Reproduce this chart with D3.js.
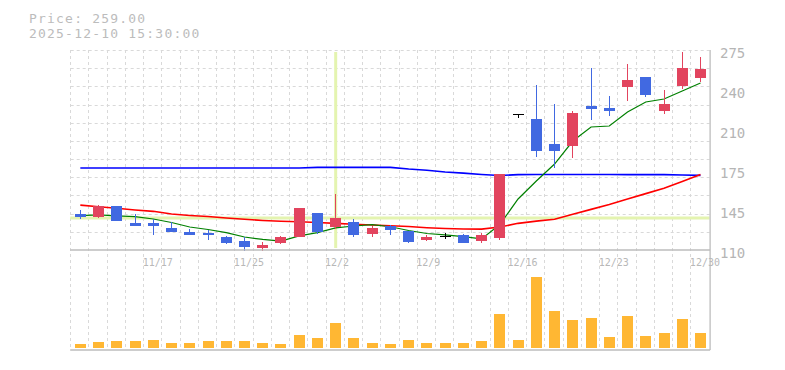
<!DOCTYPE html>
<html><head><meta charset="utf-8">
<script src="https://cdn.jsdelivr.net/npm/d3@7"></script>
<style>
html,body{margin:0;padding:0;background:#fff;}
svg{display:block;}
text{font-family:"DejaVu Sans Mono",monospace;}
</style></head><body>
<svg id="chart" width="785" height="370"></svg>
<script>
const dates = ["11/11","11/12","11/13","11/14","11/17","11/18","11/19","11/20","11/21","11/25","11/26","11/27","11/28","12/1","12/2","12/3","12/4","12/5","12/8","12/9","12/10","12/11","12/12","12/15","12/16","12/17","12/18","12/19","12/22","12/23","12/24","12/25","12/26","12/29","12/30"];
const openP  = [139.7,137.5,146.3,132.5,132.5,128.4,124.6,124.3,120.7,117.4,111.9,116.0,120.7,140.5,129.2,133.1,123.4,130.0,125.9,118.3,121.3,122.6,117.7,120.1,221.8,218.1,197.5,196.0,228.5,227.2,244.5,252.7,224.9,245.5,252.1];
const highP  = [143.0,147.1,146.3,140.0,135.6,133.1,127.6,126.9,121.8,121.0,116.4,121.8,144.7,140.5,156.2,135.6,129.5,130.6,125.9,122.6,124.3,123.2,124.3,172.7,221.8,246.1,230.5,224.7,260.4,237.1,263.5,252.7,242.0,273.4,269.2];
const lowP   = [135.6,136.6,134.2,130.0,122.4,125.1,122.6,118.3,115.2,109.4,109.4,115.2,120.7,122.8,127.1,121.0,121.0,122.0,116.0,117.4,118.8,116.0,116.0,118.3,219.1,187.0,177.9,186.1,217.3,220.8,233.2,236.5,222.4,243.1,248.9];
const closeP = [137.6,146.3,134.2,130.0,130.0,125.1,122.6,122.6,116.0,112.2,114.1,120.7,144.7,125.1,136.4,122.6,128.2,126.7,116.8,120.7,121.3,116.0,122.6,172.7,221.8,191.9,191.9,223.0,226.6,224.9,250.3,238.1,230.5,260.2,259.0];
const volumeK = [4,6,7,7,8,5,5,7,7,7,5,4,13,10,25,10,5,4,8,5,5,5,7,34,8,71,37,28,30,11,32,12,15,29,15];
const ma5  = [138.3,138.9,138.1,137.5,135.6,132.7,129.0,126.9,124.3,120.7,118.7,117.4,121.6,124.4,128.2,129.8,131.0,129.2,126.1,123.6,122.4,121.0,119.1,131.0,152.1,166.9,180.9,199.9,211.5,212.3,223.9,232.1,234.6,241.2,247.8];
const ma25 = [147.0,145.7,144.4,143.0,141.9,139.7,138.5,137.6,136.4,135.4,134.4,133.7,133.3,132.7,132.0,131.2,130.6,130.0,129.4,128.4,127.7,127.3,127.2,129.0,132.0,133.8,135.3,139.5,143.5,147.5,152.0,156.5,161.0,166.5,172.3];
const ma75 = [177.6,177.6,177.6,177.6,177.6,177.6,177.6,177.6,177.6,177.6,177.6,177.6,177.6,178.2,178.2,178.2,178.2,178.2,176.8,175.8,174.4,173.4,172.3,171.5,172.2,172.3,172.3,172.3,172.3,172.3,172.2,172.2,172.2,171.9,171.6];
const xTickDates = ["11/17","11/25","12/2","12/9","12/16","12/23","12/30"];
const yTickValues = [110,143,176,209,242,275];
const yTickLabels = ["110","145","175","210","240","275"];
const gridPrices = [110,125,140,155,170,185,200,215,230,245,260,275];
const headerLines = ["Price: 259.00","2025-12-10 15:30:00"];
const crossDate = "12/2";
const crossPrice = 136.4;

const svg = d3.select("#chart");
const L = 71.2, R = 709.6, T = 50, B = 250, VB = 348, VT = 268, AXB = 350;

const x = d3.scaleBand().domain(dates).range([L, R]).paddingInner(0).paddingOuter(0);
const cx = d => x(d) + x.bandwidth() / 2;
const y = d3.scaleLinear().domain([110, 275]).range([B, T]);
const yv = d3.scaleLinear().domain([0, 80]).range([VB, VT]);

const data = dates.map((d, i) => ({d, o: openP[i], h: highP[i], l: lowP[i], c: closeP[i], v: volumeK[i]}));

// grid
const grid = svg.append("g").attr("stroke", "#d9d9d9").attr("stroke-dasharray", "3,3").attr("stroke-width", 1);
grid.selectAll("line.h").data(gridPrices.filter(p => p !== 110)).join("line")
  .attr("x1", L - 0.5).attr("x2", R).attr("y1", p => Math.round(y(p)) + 0.5).attr("y2", p => Math.round(y(p)) + 0.5);
grid.selectAll("line.v").data(dates).join("line")
  .attr("x1", d => Math.round(x(d) - 1) + 0.5).attr("x2", d => Math.round(x(d) - 1) + 0.5)
  .attr("y1", T).attr("y2", AXB);

// crosshair highlight
const hl = svg.append("g").attr("stroke", "#e4f4b0").attr("stroke-width", 3);
hl.append("line").attr("x1", cx(crossDate)).attr("x2", cx(crossDate)).attr("y1", T + 2).attr("y2", B - 2);
hl.append("line").attr("x1", L - 1).attr("x2", R).attr("y1", y(crossPrice)).attr("y2", y(crossPrice));

// moving averages
const line = arr => d3.line().x((v, i) => cx(dates[i])).y(v => y(v))(arr);
svg.append("path").attr("d", line(ma75)).attr("fill", "none").attr("stroke", "#0000ff").attr("stroke-width", 1.6);
svg.append("path").attr("d", line(ma25)).attr("fill", "none").attr("stroke", "#ff0000").attr("stroke-width", 1.6);
svg.append("path").attr("d", line(ma5)).attr("fill", "none").attr("stroke", "#008000").attr("stroke-width", 1.2);

// candles
const colorOf = k => k.c > k.o ? "#e2445e" : (k.c < k.o ? "#4169e1" : "#000000");
const bw = 11;
const cg = svg.append("g").attr("shape-rendering", "crispEdges");
cg.selectAll("line").data(data).join("line")
  .attr("x1", k => cx(k.d)).attr("x2", k => cx(k.d))
  .attr("y1", k => y(k.h)).attr("y2", k => y(k.l))
  .attr("stroke", colorOf).attr("stroke-width", 1);
cg.selectAll("rect").data(data).join("rect")
  .attr("x", k => cx(k.d) - bw / 2)
  .attr("width", bw)
  .attr("y", k => y(Math.max(k.o, k.c)))
  .attr("height", k => Math.max(1, Math.abs(y(k.o) - y(k.c))))
  .attr("fill", colorOf);

// volume
svg.append("g").attr("shape-rendering", "crispEdges").selectAll("rect").data(data).join("rect")
  .attr("x", k => cx(k.d) - bw / 2).attr("width", bw)
  .attr("y", k => yv(k.v)).attr("height", k => VB - yv(k.v))
  .attr("fill", "#ffb733");

// axis lines
const ax = svg.append("g").attr("stroke", "#bdbdbd").attr("stroke-width", 1.3);
ax.append("line").attr("x1", L - 1).attr("x2", R + 0.5).attr("y1", B).attr("y2", B);
ax.append("line").attr("x1", L - 1).attr("x2", R + 0.5).attr("y1", AXB).attr("y2", AXB);
ax.append("line").attr("x1", R + 0.5).attr("x2", R + 0.5).attr("y1", T).attr("y2", AXB);

// x labels
svg.append("g").selectAll("text").data(xTickDates).join("text")
  .attr("x", d => x(d) - 1.5).attr("y", 266)
  .attr("font-size", 10).attr("fill", "#b8b8b8")
  .text(d => d);

// y labels
svg.append("g").selectAll("text").data(yTickValues).join("text")
  .attr("x", 720).attr("y", v => y(v) + 8)
  .attr("font-size", 14).attr("fill", "#b5b5b5")
  .text((v, i) => yTickLabels[i]);

// header
svg.append("g").selectAll("text").data(headerLines).join("text")
  .attr("x", 29).attr("y", (d, i) => 22.5 + i * 15.5)
  .attr("font-size", 13).attr("letter-spacing", "1.2px").attr("fill", "#bcbcbc")
  .text(d => d);
</script>
</body></html>
